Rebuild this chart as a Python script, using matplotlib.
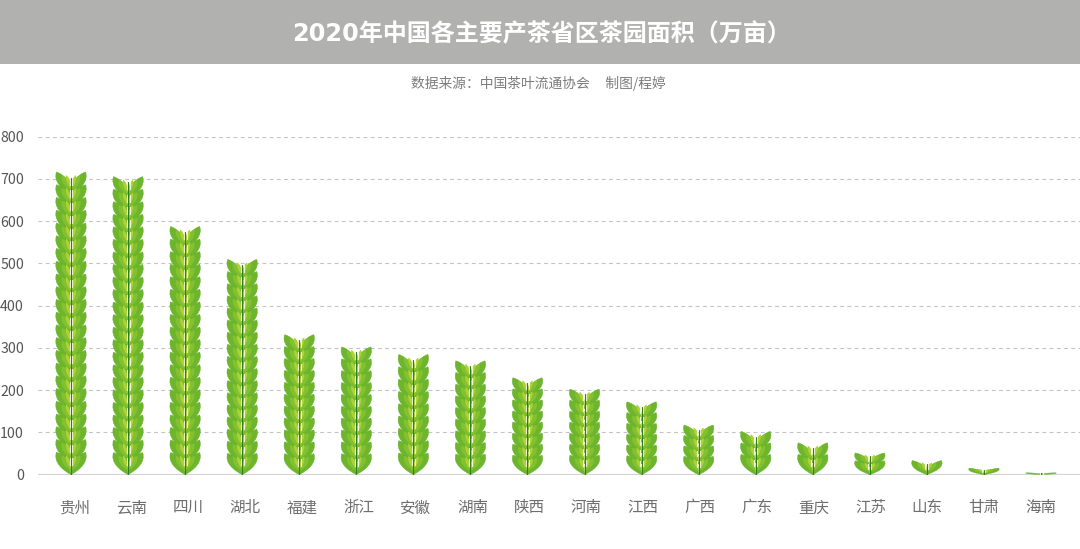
# -*- coding: utf-8 -*-
import numpy as np
import matplotlib
matplotlib.use('Agg')
import matplotlib.pyplot as plt
from matplotlib.patches import PathPatch, Rectangle
from matplotlib.path import Path

plt.rcParams['font.family'] = ['Noto Sans CJK SC', 'DejaVu Sans']

provinces = ['贵州', '云南', '四川', '湖北', '福建', '浙江', '安徽', '湖南', '陕西',
             '河南', '江西', '广西', '广东', '重庆', '江苏', '山东', '甘肃', '海南']
areas = [716, 705, 587, 509, 331, 302, 284, 269, 229, 202, 172, 117, 102, 75, 51, 33, 15, 4]
y_ticks = [0, 100, 200, 300, 400, 500, 600, 700, 800]

W, H = 1080, 549
fig = plt.figure(figsize=(W / 100, H / 100), dpi=100, facecolor='white')

# axes spans the plot region, x=0 is at 71px and each province takes 57px
left, right = 38, 1080
y0, y800 = 474.5, 136.5
ax = fig.add_axes([left / W, 1 - y0 / H, (right - left) / W, (y0 - y800) / H])
ax.set_xlim((left - 71) / 57.06, (right - 71) / 57.06)
ax.set_ylim(0, 800)
ax.patch.set_alpha(0)
for s in ax.spines.values():
    s.set_visible(False)
ax.tick_params(length=0)
ax.set_xticks([])
ax.set_yticks(y_ticks)
ax.set_yticklabels([str(t) for t in y_ticks], fontsize=10.2, color='#555555', fontweight='medium')
ax.tick_params(axis='y', pad=10)
ax.grid(axis='y', color='#c4c4c4', lw=0.8, ls=(0, (3.5, 3)))
ax.set_axisbelow(True)
ax.axhline(0, color='#d4d4d4', lw=1.6, zorder=1)

# labels drift a little against the marks: 3.5px off on the left, none on the right
for i, name in enumerate(provinces):
    ax.annotate(name, (i, 0), xytext=(2.5 * (1 - i / 17), -24), textcoords='offset points',
                ha='center', va='center', fontsize=11.2, color='#6e6e6e')

UNIT = 30.5      # height of one leaf pair, in 万亩
HALF_W = 0.255   # half width of the sprig, in category units
REACH = 1.75     # leaf height, in leaf pair steps


def leaf_path(x, base, h, side, outer, reach=REACH):
    # leaf from the stem out to a tip; side is -1 or 1, outer is how far it reaches
    root = (x, base)
    verts = [root,
             (x + side * outer * 0.62, base + h * reach * 0.2),
             (x + side * outer * 1.22, base + h * reach * 0.58),
             (x + side * outer, base + h * reach),
             (x + side * outer * 0.42, base + h * reach * 0.88),
             (x + side * outer * 0.04, base + h * reach * 0.5),
             root]
    codes = [Path.MOVETO, Path.CURVE4, Path.CURVE4, Path.CURVE4,
             Path.CURVE4, Path.CURVE4, Path.CURVE4]
    return Path(verts, codes)


def draw_sprig(x, value):
    n = max(1, int(round(value / UNIT)))
    h = value / (n - 1 + REACH)
    # top pair first, every lower pair lies over the root of the one above
    for i in range(n - 1, -1, -1):
        base = i * h
        z = 3 + (n - i) * 0.01
        for side in (-1, 1):
            ax.add_patch(PathPatch(leaf_path(x, base, h, side, HALF_W), fc='#6db62c',
                                   ec='#63ab29', lw=0.3, zorder=z))
            ax.add_patch(PathPatch(leaf_path(x, base + h * 0.3, h, side, HALF_W * 0.62, 1.2),
                                   fc='#84c131', ec='none', zorder=z))
            ax.add_patch(PathPatch(leaf_path(x, base + h * 0.5, h, side, HALF_W * 0.34, 1.0),
                                   fc='#aed136', ec='none', zorder=4))
            ax.plot([x + side * 0.026] * 2, [base + h * 0.75, base + h * 1.3], color='#f1f6d6',
                    lw=0.8, zorder=5)
    ax.plot([x, x], [0, (n - 1 + 1.3) * h], color='#2f7d1e', lw=0.8, zorder=6, solid_capstyle='round')


for i, v in enumerate(areas):
    draw_sprig(i, v)

# title band
fig.add_artist(Rectangle((0, 1 - 64 / H), 1, 64 / H, transform=fig.transFigure,
                         fc='#b1b1b0', ec='none'))
fig.text(292 / W, 1 - 34 / H, '2020年中国各主要产茶省区茶园面积（万亩）', ha='left', va='center',
         fontsize=17.3, fontweight='bold', color='white', family=['DejaVu Sans', 'Noto Sans CJK SC'])
fig.text(538.5 / W, 1 - 83 / H, '数据来源：中国茶叶流通协会     制图/程婷', ha='center', va='center',
         fontsize=9.9, color='#7c7c7c')

fig.savefig('out.png', dpi=100)
